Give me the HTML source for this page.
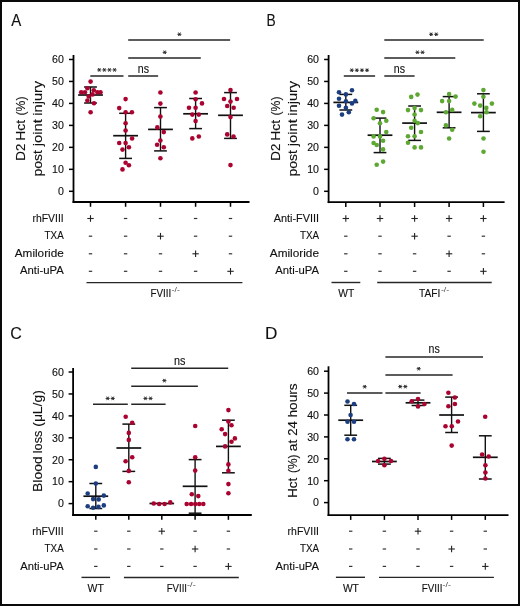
<!DOCTYPE html>
<html><head><meta charset="utf-8"><title>Figure</title>
<style>
html,body{margin:0;padding:0;background:#fff;}
body{width:520px;height:606px;overflow:hidden;}
svg{display:block;will-change:transform;}
text{font-family:"Liberation Sans",sans-serif;fill:#111111;stroke:#111111;stroke-width:0.12px;}
</style></head>
<body>
<svg width="520" height="606" viewBox="0 0 520 606">
<rect x="0" y="0" width="520" height="606" fill="#fff"/>
<text x="11.20" y="25.60" font-size="17" text-anchor="start" textLength="10" lengthAdjust="spacingAndGlyphs">A</text>
<line x1="73.50" y1="55.00" x2="73.50" y2="202.90" stroke="#000" stroke-width="1.8"/>
<line x1="72.60" y1="202.00" x2="249.50" y2="202.00" stroke="#000" stroke-width="1.8"/>
<line x1="69.00" y1="59.48" x2="73.50" y2="59.48" stroke="#000" stroke-width="1.5"/>
<text x="63.80" y="63.28" font-size="10.6" text-anchor="end">60</text>
<line x1="69.00" y1="81.45" x2="73.50" y2="81.45" stroke="#000" stroke-width="1.5"/>
<text x="63.80" y="85.25" font-size="10.6" text-anchor="end">50</text>
<line x1="69.00" y1="103.42" x2="73.50" y2="103.42" stroke="#000" stroke-width="1.5"/>
<text x="63.80" y="107.22" font-size="10.6" text-anchor="end">40</text>
<line x1="69.00" y1="125.39" x2="73.50" y2="125.39" stroke="#000" stroke-width="1.5"/>
<text x="63.80" y="129.19" font-size="10.6" text-anchor="end">30</text>
<line x1="69.00" y1="147.36" x2="73.50" y2="147.36" stroke="#000" stroke-width="1.5"/>
<text x="63.80" y="151.16" font-size="10.6" text-anchor="end">20</text>
<line x1="69.00" y1="169.33" x2="73.50" y2="169.33" stroke="#000" stroke-width="1.5"/>
<text x="63.80" y="173.13" font-size="10.6" text-anchor="end">10</text>
<line x1="69.00" y1="191.30" x2="73.50" y2="191.30" stroke="#000" stroke-width="1.5"/>
<text x="63.80" y="195.10" font-size="10.6" text-anchor="end">0</text>
<line x1="90.50" y1="202.00" x2="90.50" y2="206.80" stroke="#000" stroke-width="1.5"/>
<line x1="125.60" y1="202.00" x2="125.60" y2="206.80" stroke="#000" stroke-width="1.5"/>
<line x1="160.50" y1="202.00" x2="160.50" y2="206.80" stroke="#000" stroke-width="1.5"/>
<line x1="195.60" y1="202.00" x2="195.60" y2="206.80" stroke="#000" stroke-width="1.5"/>
<line x1="230.50" y1="202.00" x2="230.50" y2="206.80" stroke="#000" stroke-width="1.5"/>
<text transform="translate(24.90,160.66) rotate(-90)" x="0" y="0" font-size="13.6" textLength="16.97" lengthAdjust="spacingAndGlyphs">D2</text>
<text transform="translate(24.90,140.72) rotate(-90)" x="0" y="0" font-size="13.6" textLength="20.96" lengthAdjust="spacingAndGlyphs">Hct</text>
<text transform="translate(24.90,115.54) rotate(-90)" x="0" y="0" font-size="13.6" textLength="19.14" lengthAdjust="spacingAndGlyphs">(%)</text>
<text transform="translate(42.10,176.41) rotate(-90)" x="0" y="0" font-size="13.6" textLength="26.35" lengthAdjust="spacingAndGlyphs">post</text>
<text transform="translate(42.10,146.23) rotate(-90)" x="0" y="0" font-size="13.6" textLength="27.07" lengthAdjust="spacingAndGlyphs">joint</text>
<text transform="translate(42.10,115.64) rotate(-90)" x="0" y="0" font-size="13.6" textLength="34.74" lengthAdjust="spacingAndGlyphs">injury</text>
<line x1="90.50" y1="87.00" x2="90.50" y2="103.00" stroke="#111111" stroke-width="1.4"/>
<line x1="84.10" y1="87.00" x2="96.90" y2="87.00" stroke="#111111" stroke-width="1.5"/>
<line x1="84.10" y1="103.00" x2="96.90" y2="103.00" stroke="#111111" stroke-width="1.5"/>
<line x1="78.10" y1="95.00" x2="102.90" y2="95.00" stroke="#111111" stroke-width="1.7"/>
<line x1="125.60" y1="113.30" x2="125.60" y2="158.40" stroke="#111111" stroke-width="1.4"/>
<line x1="119.20" y1="113.30" x2="132.00" y2="113.30" stroke="#111111" stroke-width="1.5"/>
<line x1="119.20" y1="158.40" x2="132.00" y2="158.40" stroke="#111111" stroke-width="1.5"/>
<line x1="113.20" y1="135.70" x2="138.00" y2="135.70" stroke="#111111" stroke-width="1.7"/>
<line x1="160.50" y1="107.60" x2="160.50" y2="150.90" stroke="#111111" stroke-width="1.4"/>
<line x1="154.10" y1="107.60" x2="166.90" y2="107.60" stroke="#111111" stroke-width="1.5"/>
<line x1="154.10" y1="150.90" x2="166.90" y2="150.90" stroke="#111111" stroke-width="1.5"/>
<line x1="148.10" y1="129.40" x2="172.90" y2="129.40" stroke="#111111" stroke-width="1.7"/>
<line x1="195.60" y1="98.50" x2="195.60" y2="128.60" stroke="#111111" stroke-width="1.4"/>
<line x1="189.20" y1="98.50" x2="202.00" y2="98.50" stroke="#111111" stroke-width="1.5"/>
<line x1="189.20" y1="128.60" x2="202.00" y2="128.60" stroke="#111111" stroke-width="1.5"/>
<line x1="183.20" y1="113.80" x2="208.00" y2="113.80" stroke="#111111" stroke-width="1.7"/>
<line x1="230.50" y1="92.60" x2="230.50" y2="138.40" stroke="#111111" stroke-width="1.4"/>
<line x1="224.10" y1="92.60" x2="236.90" y2="92.60" stroke="#111111" stroke-width="1.5"/>
<line x1="224.10" y1="138.40" x2="236.90" y2="138.40" stroke="#111111" stroke-width="1.5"/>
<line x1="218.10" y1="115.30" x2="242.90" y2="115.30" stroke="#111111" stroke-width="1.7"/>
<circle cx="90.60" cy="81.60" r="2.3" fill="#AA0330"/>
<circle cx="87.40" cy="88.20" r="2.3" fill="#AA0330"/>
<circle cx="93.80" cy="90.20" r="2.3" fill="#AA0330"/>
<circle cx="81.20" cy="92.30" r="2.3" fill="#AA0330"/>
<circle cx="85.00" cy="92.30" r="2.3" fill="#AA0330"/>
<circle cx="97.40" cy="92.20" r="2.3" fill="#AA0330"/>
<circle cx="100.50" cy="92.30" r="2.3" fill="#AA0330"/>
<circle cx="92.60" cy="94.40" r="2.3" fill="#AA0330"/>
<circle cx="88.70" cy="96.50" r="2.3" fill="#AA0330"/>
<circle cx="87.40" cy="100.60" r="2.3" fill="#AA0330"/>
<circle cx="94.00" cy="103.30" r="2.3" fill="#AA0330"/>
<circle cx="90.60" cy="112.30" r="2.3" fill="#AA0330"/>
<circle cx="125.60" cy="99.10" r="2.3" fill="#AA0330"/>
<circle cx="119.20" cy="108.10" r="2.3" fill="#AA0330"/>
<circle cx="125.60" cy="112.30" r="2.3" fill="#AA0330"/>
<circle cx="131.90" cy="112.30" r="2.3" fill="#AA0330"/>
<circle cx="125.60" cy="123.20" r="2.3" fill="#AA0330"/>
<circle cx="125.60" cy="130.50" r="2.3" fill="#AA0330"/>
<circle cx="132.10" cy="138.50" r="2.3" fill="#AA0330"/>
<circle cx="119.20" cy="143.00" r="2.3" fill="#AA0330"/>
<circle cx="125.60" cy="143.00" r="2.3" fill="#AA0330"/>
<circle cx="128.90" cy="147.20" r="2.3" fill="#AA0330"/>
<circle cx="122.50" cy="149.60" r="2.3" fill="#AA0330"/>
<circle cx="125.60" cy="162.70" r="2.3" fill="#AA0330"/>
<circle cx="128.90" cy="165.30" r="2.3" fill="#AA0330"/>
<circle cx="122.50" cy="169.40" r="2.3" fill="#AA0330"/>
<circle cx="160.40" cy="92.50" r="2.3" fill="#AA0330"/>
<circle cx="160.40" cy="103.60" r="2.3" fill="#AA0330"/>
<circle cx="160.40" cy="116.60" r="2.3" fill="#AA0330"/>
<circle cx="157.30" cy="127.40" r="2.3" fill="#AA0330"/>
<circle cx="163.80" cy="132.10" r="2.3" fill="#AA0330"/>
<circle cx="160.40" cy="140.50" r="2.3" fill="#AA0330"/>
<circle cx="157.10" cy="144.80" r="2.3" fill="#AA0330"/>
<circle cx="163.80" cy="147.30" r="2.3" fill="#AA0330"/>
<circle cx="160.40" cy="158.30" r="2.3" fill="#AA0330"/>
<circle cx="195.60" cy="92.50" r="2.3" fill="#AA0330"/>
<circle cx="195.60" cy="99.20" r="2.3" fill="#AA0330"/>
<circle cx="202.00" cy="103.40" r="2.3" fill="#AA0330"/>
<circle cx="189.00" cy="107.80" r="2.3" fill="#AA0330"/>
<circle cx="195.60" cy="107.80" r="2.3" fill="#AA0330"/>
<circle cx="192.30" cy="114.60" r="2.3" fill="#AA0330"/>
<circle cx="198.80" cy="114.60" r="2.3" fill="#AA0330"/>
<circle cx="195.60" cy="121.10" r="2.3" fill="#AA0330"/>
<circle cx="192.30" cy="138.40" r="2.3" fill="#AA0330"/>
<circle cx="198.80" cy="136.50" r="2.3" fill="#AA0330"/>
<circle cx="230.50" cy="90.10" r="2.3" fill="#AA0330"/>
<circle cx="224.00" cy="99.00" r="2.3" fill="#AA0330"/>
<circle cx="237.00" cy="99.00" r="2.3" fill="#AA0330"/>
<circle cx="230.50" cy="101.60" r="2.3" fill="#AA0330"/>
<circle cx="227.20" cy="106.00" r="2.3" fill="#AA0330"/>
<circle cx="233.70" cy="107.80" r="2.3" fill="#AA0330"/>
<circle cx="230.50" cy="117.10" r="2.3" fill="#AA0330"/>
<circle cx="227.20" cy="134.40" r="2.3" fill="#AA0330"/>
<circle cx="233.50" cy="136.50" r="2.3" fill="#AA0330"/>
<circle cx="230.50" cy="165.10" r="2.3" fill="#AA0330"/>
<line x1="90.30" y1="76.00" x2="123.50" y2="76.00" stroke="#262626" stroke-width="1.5"/>
<path d="M97.25,69.90L101.25,69.90M98.25,68.17L100.25,71.63M100.25,68.17L98.25,71.63" stroke="#2a2a2a" stroke-width="1.0" fill="none"/>
<path d="M102.35,69.90L106.35,69.90M103.35,68.17L105.35,71.63M105.35,68.17L103.35,71.63" stroke="#2a2a2a" stroke-width="1.0" fill="none"/>
<path d="M107.45,69.90L111.45,69.90M108.45,68.17L110.45,71.63M110.45,68.17L108.45,71.63" stroke="#2a2a2a" stroke-width="1.0" fill="none"/>
<path d="M112.55,69.90L116.55,69.90M113.55,68.17L115.55,71.63M115.55,68.17L113.55,71.63" stroke="#2a2a2a" stroke-width="1.0" fill="none"/>
<line x1="128.20" y1="76.00" x2="158.10" y2="76.00" stroke="#262626" stroke-width="1.5"/>
<text x="143.40" y="72.50" font-size="11.9" text-anchor="middle" textLength="11.2" lengthAdjust="spacingAndGlyphs">ns</text>
<line x1="128.20" y1="58.10" x2="200.80" y2="58.10" stroke="#262626" stroke-width="1.5"/>
<path d="M162.70,52.30L166.70,52.30M163.70,50.57L165.70,54.03M165.70,50.57L163.70,54.03" stroke="#2a2a2a" stroke-width="1.0" fill="none"/>
<line x1="128.20" y1="40.10" x2="230.10" y2="40.10" stroke="#262626" stroke-width="1.5"/>
<path d="M177.40,34.30L181.40,34.30M178.40,32.57L180.40,36.03M180.40,32.57L178.40,36.03" stroke="#2a2a2a" stroke-width="1.0" fill="none"/>
<text x="63.70" y="221.80" font-size="11.2" text-anchor="end" textLength="31.2" lengthAdjust="spacingAndGlyphs">rhFVIII</text>
<line x1="87.30" y1="218.50" x2="93.70" y2="218.50" stroke="#222" stroke-width="1.1"/>
<line x1="90.50" y1="215.20" x2="90.50" y2="221.80" stroke="#222" stroke-width="1.1"/>
<line x1="123.90" y1="218.50" x2="127.30" y2="218.50" stroke="#333" stroke-width="1.2"/>
<line x1="158.80" y1="218.50" x2="162.20" y2="218.50" stroke="#333" stroke-width="1.2"/>
<line x1="193.90" y1="218.50" x2="197.30" y2="218.50" stroke="#333" stroke-width="1.2"/>
<line x1="228.80" y1="218.50" x2="232.20" y2="218.50" stroke="#333" stroke-width="1.2"/>
<text x="63.70" y="239.10" font-size="11.2" text-anchor="end" textLength="19.1" lengthAdjust="spacingAndGlyphs">TXA</text>
<line x1="88.80" y1="236.20" x2="92.20" y2="236.20" stroke="#333" stroke-width="1.2"/>
<line x1="123.90" y1="236.20" x2="127.30" y2="236.20" stroke="#333" stroke-width="1.2"/>
<line x1="157.30" y1="236.20" x2="163.70" y2="236.20" stroke="#222" stroke-width="1.1"/>
<line x1="160.50" y1="232.90" x2="160.50" y2="239.50" stroke="#222" stroke-width="1.1"/>
<line x1="193.90" y1="236.20" x2="197.30" y2="236.20" stroke="#333" stroke-width="1.2"/>
<line x1="228.80" y1="236.20" x2="232.20" y2="236.20" stroke="#333" stroke-width="1.2"/>
<text x="63.70" y="256.90" font-size="11.2" text-anchor="end" textLength="48.9" lengthAdjust="spacingAndGlyphs">Amiloride</text>
<line x1="88.80" y1="253.80" x2="92.20" y2="253.80" stroke="#333" stroke-width="1.2"/>
<line x1="123.90" y1="253.80" x2="127.30" y2="253.80" stroke="#333" stroke-width="1.2"/>
<line x1="158.80" y1="253.80" x2="162.20" y2="253.80" stroke="#333" stroke-width="1.2"/>
<line x1="192.40" y1="253.80" x2="198.80" y2="253.80" stroke="#222" stroke-width="1.1"/>
<line x1="195.60" y1="250.50" x2="195.60" y2="257.10" stroke="#222" stroke-width="1.1"/>
<line x1="228.80" y1="253.80" x2="232.20" y2="253.80" stroke="#333" stroke-width="1.2"/>
<text x="63.70" y="274.30" font-size="11.2" text-anchor="end" textLength="43.7" lengthAdjust="spacingAndGlyphs">Anti-uPA</text>
<line x1="88.80" y1="271.30" x2="92.20" y2="271.30" stroke="#333" stroke-width="1.2"/>
<line x1="123.90" y1="271.30" x2="127.30" y2="271.30" stroke="#333" stroke-width="1.2"/>
<line x1="158.80" y1="271.30" x2="162.20" y2="271.30" stroke="#333" stroke-width="1.2"/>
<line x1="193.90" y1="271.30" x2="197.30" y2="271.30" stroke="#333" stroke-width="1.2"/>
<line x1="227.30" y1="271.30" x2="233.70" y2="271.30" stroke="#222" stroke-width="1.1"/>
<line x1="230.50" y1="268.00" x2="230.50" y2="274.60" stroke="#222" stroke-width="1.1"/>
<line x1="86.50" y1="282.60" x2="242.40" y2="282.60" stroke="#262626" stroke-width="1.4"/>
<text x="150.40" y="297.30" font-size="10.8" text-anchor="start" textLength="20.8" lengthAdjust="spacingAndGlyphs">FVIII</text>
<text x="171.60" y="292.30" font-size="7" text-anchor="start" textLength="8.2" lengthAdjust="spacingAndGlyphs" style="stroke:none;fill:#444">-/-</text>
<text x="266.50" y="25.60" font-size="17" text-anchor="start" textLength="9.2" lengthAdjust="spacingAndGlyphs">B</text>
<line x1="328.60" y1="55.00" x2="328.60" y2="203.10" stroke="#000" stroke-width="1.8"/>
<line x1="327.70" y1="202.20" x2="504.60" y2="202.20" stroke="#000" stroke-width="1.8"/>
<line x1="324.10" y1="59.48" x2="328.60" y2="59.48" stroke="#000" stroke-width="1.5"/>
<text x="319.00" y="63.28" font-size="10.6" text-anchor="end">60</text>
<line x1="324.10" y1="81.45" x2="328.60" y2="81.45" stroke="#000" stroke-width="1.5"/>
<text x="319.00" y="85.25" font-size="10.6" text-anchor="end">50</text>
<line x1="324.10" y1="103.42" x2="328.60" y2="103.42" stroke="#000" stroke-width="1.5"/>
<text x="319.00" y="107.22" font-size="10.6" text-anchor="end">40</text>
<line x1="324.10" y1="125.39" x2="328.60" y2="125.39" stroke="#000" stroke-width="1.5"/>
<text x="319.00" y="129.19" font-size="10.6" text-anchor="end">30</text>
<line x1="324.10" y1="147.36" x2="328.60" y2="147.36" stroke="#000" stroke-width="1.5"/>
<text x="319.00" y="151.16" font-size="10.6" text-anchor="end">20</text>
<line x1="324.10" y1="169.33" x2="328.60" y2="169.33" stroke="#000" stroke-width="1.5"/>
<text x="319.00" y="173.13" font-size="10.6" text-anchor="end">10</text>
<line x1="324.10" y1="191.30" x2="328.60" y2="191.30" stroke="#000" stroke-width="1.5"/>
<text x="319.00" y="195.10" font-size="10.6" text-anchor="end">0</text>
<line x1="345.80" y1="202.20" x2="345.80" y2="207.00" stroke="#000" stroke-width="1.5"/>
<line x1="380.00" y1="202.20" x2="380.00" y2="207.00" stroke="#000" stroke-width="1.5"/>
<line x1="414.60" y1="202.20" x2="414.60" y2="207.00" stroke="#000" stroke-width="1.5"/>
<line x1="449.10" y1="202.20" x2="449.10" y2="207.00" stroke="#000" stroke-width="1.5"/>
<line x1="483.40" y1="202.20" x2="483.40" y2="207.00" stroke="#000" stroke-width="1.5"/>
<text transform="translate(280.20,160.66) rotate(-90)" x="0" y="0" font-size="13.6" textLength="16.97" lengthAdjust="spacingAndGlyphs">D2</text>
<text transform="translate(280.20,140.72) rotate(-90)" x="0" y="0" font-size="13.6" textLength="20.96" lengthAdjust="spacingAndGlyphs">Hct</text>
<text transform="translate(280.20,115.54) rotate(-90)" x="0" y="0" font-size="13.6" textLength="19.14" lengthAdjust="spacingAndGlyphs">(%)</text>
<text transform="translate(297.40,176.41) rotate(-90)" x="0" y="0" font-size="13.6" textLength="26.35" lengthAdjust="spacingAndGlyphs">post</text>
<text transform="translate(297.40,146.23) rotate(-90)" x="0" y="0" font-size="13.6" textLength="27.07" lengthAdjust="spacingAndGlyphs">joint</text>
<text transform="translate(297.40,115.64) rotate(-90)" x="0" y="0" font-size="13.6" textLength="34.74" lengthAdjust="spacingAndGlyphs">injury</text>
<line x1="345.80" y1="94.40" x2="345.80" y2="110.00" stroke="#111111" stroke-width="1.4"/>
<line x1="339.40" y1="94.40" x2="352.20" y2="94.40" stroke="#111111" stroke-width="1.5"/>
<line x1="339.40" y1="110.00" x2="352.20" y2="110.00" stroke="#111111" stroke-width="1.5"/>
<line x1="333.40" y1="102.40" x2="358.20" y2="102.40" stroke="#111111" stroke-width="1.7"/>
<line x1="380.00" y1="118.10" x2="380.00" y2="152.60" stroke="#111111" stroke-width="1.4"/>
<line x1="373.60" y1="118.10" x2="386.40" y2="118.10" stroke="#111111" stroke-width="1.5"/>
<line x1="373.60" y1="152.60" x2="386.40" y2="152.60" stroke="#111111" stroke-width="1.5"/>
<line x1="367.60" y1="135.20" x2="392.40" y2="135.20" stroke="#111111" stroke-width="1.7"/>
<line x1="414.60" y1="106.00" x2="414.60" y2="140.40" stroke="#111111" stroke-width="1.4"/>
<line x1="408.20" y1="106.00" x2="421.00" y2="106.00" stroke="#111111" stroke-width="1.5"/>
<line x1="408.20" y1="140.40" x2="421.00" y2="140.40" stroke="#111111" stroke-width="1.5"/>
<line x1="402.20" y1="123.10" x2="427.00" y2="123.10" stroke="#111111" stroke-width="1.7"/>
<line x1="449.10" y1="96.60" x2="449.10" y2="127.80" stroke="#111111" stroke-width="1.4"/>
<line x1="442.70" y1="96.60" x2="455.50" y2="96.60" stroke="#111111" stroke-width="1.5"/>
<line x1="442.70" y1="127.80" x2="455.50" y2="127.80" stroke="#111111" stroke-width="1.5"/>
<line x1="436.70" y1="112.30" x2="461.50" y2="112.30" stroke="#111111" stroke-width="1.7"/>
<line x1="483.40" y1="93.80" x2="483.40" y2="131.40" stroke="#111111" stroke-width="1.4"/>
<line x1="477.00" y1="93.80" x2="489.80" y2="93.80" stroke="#111111" stroke-width="1.5"/>
<line x1="477.00" y1="131.40" x2="489.80" y2="131.40" stroke="#111111" stroke-width="1.5"/>
<line x1="471.00" y1="112.60" x2="495.80" y2="112.60" stroke="#111111" stroke-width="1.7"/>
<circle cx="352.00" cy="90.20" r="2.3" fill="#1C3D80"/>
<circle cx="339.00" cy="92.30" r="2.3" fill="#1C3D80"/>
<circle cx="345.90" cy="94.40" r="2.3" fill="#1C3D80"/>
<circle cx="339.00" cy="98.80" r="2.3" fill="#1C3D80"/>
<circle cx="345.90" cy="101.30" r="2.3" fill="#1C3D80"/>
<circle cx="355.30" cy="100.90" r="2.3" fill="#1C3D80"/>
<circle cx="352.00" cy="103.40" r="2.3" fill="#1C3D80"/>
<circle cx="339.00" cy="105.70" r="2.3" fill="#1C3D80"/>
<circle cx="345.90" cy="107.70" r="2.3" fill="#1C3D80"/>
<circle cx="348.80" cy="112.20" r="2.3" fill="#1C3D80"/>
<circle cx="342.00" cy="114.60" r="2.3" fill="#1C3D80"/>
<circle cx="376.70" cy="109.80" r="2.3" fill="#5DA832"/>
<circle cx="383.10" cy="112.10" r="2.3" fill="#5DA832"/>
<circle cx="373.60" cy="118.30" r="2.3" fill="#5DA832"/>
<circle cx="386.30" cy="120.80" r="2.3" fill="#5DA832"/>
<circle cx="380.00" cy="123.30" r="2.3" fill="#5DA832"/>
<circle cx="386.30" cy="132.00" r="2.3" fill="#5DA832"/>
<circle cx="373.60" cy="136.40" r="2.3" fill="#5DA832"/>
<circle cx="380.00" cy="136.40" r="2.3" fill="#5DA832"/>
<circle cx="383.10" cy="140.70" r="2.3" fill="#5DA832"/>
<circle cx="373.60" cy="143.00" r="2.3" fill="#5DA832"/>
<circle cx="376.70" cy="145.00" r="2.3" fill="#5DA832"/>
<circle cx="383.10" cy="149.40" r="2.3" fill="#5DA832"/>
<circle cx="383.10" cy="161.60" r="2.3" fill="#5DA832"/>
<circle cx="376.70" cy="164.70" r="2.3" fill="#5DA832"/>
<circle cx="411.20" cy="96.90" r="2.3" fill="#5DA832"/>
<circle cx="417.50" cy="94.60" r="2.3" fill="#5DA832"/>
<circle cx="414.60" cy="108.10" r="2.3" fill="#5DA832"/>
<circle cx="408.00" cy="110.10" r="2.3" fill="#5DA832"/>
<circle cx="421.00" cy="110.10" r="2.3" fill="#5DA832"/>
<circle cx="414.60" cy="114.50" r="2.3" fill="#5DA832"/>
<circle cx="414.60" cy="120.80" r="2.3" fill="#5DA832"/>
<circle cx="417.80" cy="123.10" r="2.3" fill="#5DA832"/>
<circle cx="411.20" cy="127.70" r="2.3" fill="#5DA832"/>
<circle cx="421.00" cy="132.00" r="2.3" fill="#5DA832"/>
<circle cx="408.00" cy="136.20" r="2.3" fill="#5DA832"/>
<circle cx="414.60" cy="136.20" r="2.3" fill="#5DA832"/>
<circle cx="408.00" cy="142.80" r="2.3" fill="#5DA832"/>
<circle cx="414.60" cy="147.40" r="2.3" fill="#5DA832"/>
<circle cx="421.00" cy="147.40" r="2.3" fill="#5DA832"/>
<circle cx="449.10" cy="94.10" r="2.3" fill="#5DA832"/>
<circle cx="455.60" cy="96.60" r="2.3" fill="#5DA832"/>
<circle cx="442.10" cy="101.10" r="2.3" fill="#5DA832"/>
<circle cx="449.10" cy="101.10" r="2.3" fill="#5DA832"/>
<circle cx="452.20" cy="109.90" r="2.3" fill="#5DA832"/>
<circle cx="445.90" cy="112.30" r="2.3" fill="#5DA832"/>
<circle cx="445.90" cy="125.40" r="2.3" fill="#5DA832"/>
<circle cx="452.20" cy="129.80" r="2.3" fill="#5DA832"/>
<circle cx="449.10" cy="138.50" r="2.3" fill="#5DA832"/>
<circle cx="483.40" cy="90.10" r="2.3" fill="#5DA832"/>
<circle cx="483.40" cy="96.80" r="2.3" fill="#5DA832"/>
<circle cx="474.40" cy="103.60" r="2.3" fill="#5DA832"/>
<circle cx="491.90" cy="103.60" r="2.3" fill="#5DA832"/>
<circle cx="480.20" cy="105.60" r="2.3" fill="#5DA832"/>
<circle cx="486.30" cy="107.90" r="2.3" fill="#5DA832"/>
<circle cx="486.50" cy="112.30" r="2.3" fill="#5DA832"/>
<circle cx="480.20" cy="116.30" r="2.3" fill="#5DA832"/>
<circle cx="483.50" cy="138.50" r="2.3" fill="#5DA832"/>
<circle cx="483.50" cy="151.80" r="2.3" fill="#5DA832"/>
<line x1="343.80" y1="76.00" x2="375.10" y2="76.00" stroke="#262626" stroke-width="1.5"/>
<path d="M349.75,70.20L353.75,70.20M350.75,68.47L352.75,71.93M352.75,68.47L350.75,71.93" stroke="#2a2a2a" stroke-width="1.0" fill="none"/>
<path d="M354.85,70.20L358.85,70.20M355.85,68.47L357.85,71.93M357.85,68.47L355.85,71.93" stroke="#2a2a2a" stroke-width="1.0" fill="none"/>
<path d="M359.95,70.20L363.95,70.20M360.95,68.47L362.95,71.93M362.95,68.47L360.95,71.93" stroke="#2a2a2a" stroke-width="1.0" fill="none"/>
<path d="M365.05,70.20L369.05,70.20M366.05,68.47L368.05,71.93M368.05,68.47L366.05,71.93" stroke="#2a2a2a" stroke-width="1.0" fill="none"/>
<line x1="384.30" y1="76.00" x2="414.60" y2="76.00" stroke="#262626" stroke-width="1.5"/>
<text x="399.40" y="72.50" font-size="11.9" text-anchor="middle" textLength="11.2" lengthAdjust="spacingAndGlyphs">ns</text>
<line x1="384.30" y1="58.10" x2="455.30" y2="58.10" stroke="#262626" stroke-width="1.5"/>
<path d="M415.45,52.30L419.45,52.30M416.45,50.57L418.45,54.03M418.45,50.57L416.45,54.03" stroke="#2a2a2a" stroke-width="1.0" fill="none"/>
<path d="M420.55,52.30L424.55,52.30M421.55,50.57L423.55,54.03M423.55,50.57L421.55,54.03" stroke="#2a2a2a" stroke-width="1.0" fill="none"/>
<line x1="384.30" y1="40.10" x2="483.70" y2="40.10" stroke="#262626" stroke-width="1.5"/>
<path d="M429.15,34.30L433.15,34.30M430.15,32.57L432.15,36.03M432.15,32.57L430.15,36.03" stroke="#2a2a2a" stroke-width="1.0" fill="none"/>
<path d="M434.25,34.30L438.25,34.30M435.25,32.57L437.25,36.03M437.25,32.57L435.25,36.03" stroke="#2a2a2a" stroke-width="1.0" fill="none"/>
<text x="319.00" y="221.80" font-size="11.2" text-anchor="end" textLength="45.3" lengthAdjust="spacingAndGlyphs">Anti-FVIII</text>
<line x1="342.60" y1="218.50" x2="349.00" y2="218.50" stroke="#222" stroke-width="1.1"/>
<line x1="345.80" y1="215.20" x2="345.80" y2="221.80" stroke="#222" stroke-width="1.1"/>
<line x1="376.80" y1="218.50" x2="383.20" y2="218.50" stroke="#222" stroke-width="1.1"/>
<line x1="380.00" y1="215.20" x2="380.00" y2="221.80" stroke="#222" stroke-width="1.1"/>
<line x1="411.40" y1="218.50" x2="417.80" y2="218.50" stroke="#222" stroke-width="1.1"/>
<line x1="414.60" y1="215.20" x2="414.60" y2="221.80" stroke="#222" stroke-width="1.1"/>
<line x1="445.90" y1="218.50" x2="452.30" y2="218.50" stroke="#222" stroke-width="1.1"/>
<line x1="449.10" y1="215.20" x2="449.10" y2="221.80" stroke="#222" stroke-width="1.1"/>
<line x1="480.20" y1="218.50" x2="486.60" y2="218.50" stroke="#222" stroke-width="1.1"/>
<line x1="483.40" y1="215.20" x2="483.40" y2="221.80" stroke="#222" stroke-width="1.1"/>
<text x="319.00" y="239.10" font-size="11.2" text-anchor="end" textLength="19.1" lengthAdjust="spacingAndGlyphs">TXA</text>
<line x1="344.10" y1="236.20" x2="347.50" y2="236.20" stroke="#333" stroke-width="1.2"/>
<line x1="378.30" y1="236.20" x2="381.70" y2="236.20" stroke="#333" stroke-width="1.2"/>
<line x1="411.40" y1="236.20" x2="417.80" y2="236.20" stroke="#222" stroke-width="1.1"/>
<line x1="414.60" y1="232.90" x2="414.60" y2="239.50" stroke="#222" stroke-width="1.1"/>
<line x1="447.40" y1="236.20" x2="450.80" y2="236.20" stroke="#333" stroke-width="1.2"/>
<line x1="481.70" y1="236.20" x2="485.10" y2="236.20" stroke="#333" stroke-width="1.2"/>
<text x="319.00" y="256.90" font-size="11.2" text-anchor="end" textLength="49.2" lengthAdjust="spacingAndGlyphs">Amiloride</text>
<line x1="344.10" y1="253.80" x2="347.50" y2="253.80" stroke="#333" stroke-width="1.2"/>
<line x1="378.30" y1="253.80" x2="381.70" y2="253.80" stroke="#333" stroke-width="1.2"/>
<line x1="412.90" y1="253.80" x2="416.30" y2="253.80" stroke="#333" stroke-width="1.2"/>
<line x1="445.90" y1="253.80" x2="452.30" y2="253.80" stroke="#222" stroke-width="1.1"/>
<line x1="449.10" y1="250.50" x2="449.10" y2="257.10" stroke="#222" stroke-width="1.1"/>
<line x1="481.70" y1="253.80" x2="485.10" y2="253.80" stroke="#333" stroke-width="1.2"/>
<text x="319.00" y="274.30" font-size="11.2" text-anchor="end" textLength="43.7" lengthAdjust="spacingAndGlyphs">Anti-uPA</text>
<line x1="344.10" y1="271.30" x2="347.50" y2="271.30" stroke="#333" stroke-width="1.2"/>
<line x1="378.30" y1="271.30" x2="381.70" y2="271.30" stroke="#333" stroke-width="1.2"/>
<line x1="412.90" y1="271.30" x2="416.30" y2="271.30" stroke="#333" stroke-width="1.2"/>
<line x1="447.40" y1="271.30" x2="450.80" y2="271.30" stroke="#333" stroke-width="1.2"/>
<line x1="480.20" y1="271.30" x2="486.60" y2="271.30" stroke="#222" stroke-width="1.1"/>
<line x1="483.40" y1="268.00" x2="483.40" y2="274.60" stroke="#222" stroke-width="1.1"/>
<line x1="331.50" y1="282.50" x2="360.30" y2="282.50" stroke="#262626" stroke-width="1.4"/>
<text x="338.20" y="297.40" font-size="10.8" text-anchor="start" textLength="16" lengthAdjust="spacingAndGlyphs">WT</text>
<line x1="377.20" y1="282.50" x2="491.70" y2="282.50" stroke="#262626" stroke-width="1.4"/>
<text x="419.10" y="297.40" font-size="10.8" text-anchor="start" textLength="21.2" lengthAdjust="spacingAndGlyphs">TAFI</text>
<text x="440.90" y="292.20" font-size="7" text-anchor="start" textLength="8.2" lengthAdjust="spacingAndGlyphs" style="stroke:none;fill:#444">-/-</text>
<text x="10.30" y="338.70" font-size="17" text-anchor="start" textLength="11.6" lengthAdjust="spacingAndGlyphs">C</text>
<line x1="73.10" y1="368.00" x2="73.10" y2="515.90" stroke="#000" stroke-width="1.8"/>
<line x1="72.20" y1="515.00" x2="251.80" y2="515.00" stroke="#000" stroke-width="1.8"/>
<line x1="68.60" y1="372.02" x2="73.10" y2="372.02" stroke="#000" stroke-width="1.5"/>
<text x="63.80" y="375.82" font-size="10.6" text-anchor="end">60</text>
<line x1="68.60" y1="393.95" x2="73.10" y2="393.95" stroke="#000" stroke-width="1.5"/>
<text x="63.80" y="397.75" font-size="10.6" text-anchor="end">50</text>
<line x1="68.60" y1="415.88" x2="73.10" y2="415.88" stroke="#000" stroke-width="1.5"/>
<text x="63.80" y="419.68" font-size="10.6" text-anchor="end">40</text>
<line x1="68.60" y1="437.81" x2="73.10" y2="437.81" stroke="#000" stroke-width="1.5"/>
<text x="63.80" y="441.61" font-size="10.6" text-anchor="end">30</text>
<line x1="68.60" y1="459.74" x2="73.10" y2="459.74" stroke="#000" stroke-width="1.5"/>
<text x="63.80" y="463.54" font-size="10.6" text-anchor="end">20</text>
<line x1="68.60" y1="481.67" x2="73.10" y2="481.67" stroke="#000" stroke-width="1.5"/>
<text x="63.80" y="485.47" font-size="10.6" text-anchor="end">10</text>
<line x1="68.60" y1="503.60" x2="73.10" y2="503.60" stroke="#000" stroke-width="1.5"/>
<text x="63.80" y="507.40" font-size="10.6" text-anchor="end">0</text>
<line x1="95.80" y1="515.00" x2="95.80" y2="519.80" stroke="#000" stroke-width="1.5"/>
<line x1="128.80" y1="515.00" x2="128.80" y2="519.80" stroke="#000" stroke-width="1.5"/>
<line x1="161.80" y1="515.00" x2="161.80" y2="519.80" stroke="#000" stroke-width="1.5"/>
<line x1="195.10" y1="515.00" x2="195.10" y2="519.80" stroke="#000" stroke-width="1.5"/>
<line x1="228.40" y1="515.00" x2="228.40" y2="519.80" stroke="#000" stroke-width="1.5"/>
<text transform="translate(41.80,491.91) rotate(-90)" x="0" y="0" font-size="13.6" textLength="35.55" lengthAdjust="spacingAndGlyphs">Blood</text>
<text transform="translate(41.80,453.23) rotate(-90)" x="0" y="0" font-size="13.6" textLength="22.65" lengthAdjust="spacingAndGlyphs">loss</text>
<text transform="translate(41.80,426.73) rotate(-90)" x="0" y="0" font-size="13.6" textLength="36.50" lengthAdjust="spacingAndGlyphs">(μL/g)</text>
<line x1="95.80" y1="483.50" x2="95.80" y2="508.50" stroke="#111111" stroke-width="1.4"/>
<line x1="89.40" y1="483.50" x2="102.20" y2="483.50" stroke="#111111" stroke-width="1.5"/>
<line x1="89.40" y1="508.50" x2="102.20" y2="508.50" stroke="#111111" stroke-width="1.5"/>
<line x1="83.40" y1="496.20" x2="108.20" y2="496.20" stroke="#111111" stroke-width="1.7"/>
<line x1="128.80" y1="424.10" x2="128.80" y2="471.40" stroke="#111111" stroke-width="1.4"/>
<line x1="122.40" y1="424.10" x2="135.20" y2="424.10" stroke="#111111" stroke-width="1.5"/>
<line x1="122.40" y1="471.40" x2="135.20" y2="471.40" stroke="#111111" stroke-width="1.5"/>
<line x1="116.40" y1="448.00" x2="141.20" y2="448.00" stroke="#111111" stroke-width="1.7"/>
<line x1="149.50" y1="503.50" x2="174.10" y2="503.50" stroke="#111111" stroke-width="1.7"/>
<line x1="195.10" y1="459.60" x2="195.10" y2="513.20" stroke="#111111" stroke-width="1.4"/>
<line x1="188.70" y1="459.60" x2="201.50" y2="459.60" stroke="#111111" stroke-width="1.5"/>
<line x1="188.70" y1="513.20" x2="201.50" y2="513.20" stroke="#111111" stroke-width="1.5"/>
<line x1="182.70" y1="486.30" x2="207.50" y2="486.30" stroke="#111111" stroke-width="1.7"/>
<line x1="228.40" y1="420.20" x2="228.40" y2="472.80" stroke="#111111" stroke-width="1.4"/>
<line x1="222.00" y1="420.20" x2="234.80" y2="420.20" stroke="#111111" stroke-width="1.5"/>
<line x1="222.00" y1="472.80" x2="234.80" y2="472.80" stroke="#111111" stroke-width="1.5"/>
<line x1="216.00" y1="446.40" x2="240.80" y2="446.40" stroke="#111111" stroke-width="1.7"/>
<circle cx="95.80" cy="466.90" r="2.3" fill="#1C3D80"/>
<circle cx="95.80" cy="483.50" r="2.3" fill="#1C3D80"/>
<circle cx="87.70" cy="493.50" r="2.3" fill="#1C3D80"/>
<circle cx="103.80" cy="495.60" r="2.3" fill="#1C3D80"/>
<circle cx="93.10" cy="499.10" r="2.3" fill="#1C3D80"/>
<circle cx="98.70" cy="499.40" r="2.3" fill="#1C3D80"/>
<circle cx="87.70" cy="506.20" r="2.3" fill="#1C3D80"/>
<circle cx="93.10" cy="507.70" r="2.3" fill="#1C3D80"/>
<circle cx="98.50" cy="506.90" r="2.3" fill="#1C3D80"/>
<circle cx="103.80" cy="505.40" r="2.3" fill="#1C3D80"/>
<circle cx="125.70" cy="416.70" r="2.3" fill="#AA0330"/>
<circle cx="132.20" cy="422.80" r="2.3" fill="#AA0330"/>
<circle cx="128.80" cy="432.90" r="2.3" fill="#AA0330"/>
<circle cx="128.80" cy="439.90" r="2.3" fill="#AA0330"/>
<circle cx="132.20" cy="457.20" r="2.3" fill="#AA0330"/>
<circle cx="125.60" cy="461.20" r="2.3" fill="#AA0330"/>
<circle cx="128.80" cy="470.90" r="2.3" fill="#AA0330"/>
<circle cx="128.80" cy="482.20" r="2.3" fill="#AA0330"/>
<circle cx="153.70" cy="503.50" r="2.3" fill="#AA0330"/>
<circle cx="159.20" cy="504.00" r="2.3" fill="#AA0330"/>
<circle cx="164.60" cy="504.00" r="2.3" fill="#AA0330"/>
<circle cx="170.30" cy="502.40" r="2.3" fill="#AA0330"/>
<circle cx="195.20" cy="426.00" r="2.3" fill="#AA0330"/>
<circle cx="195.20" cy="457.20" r="2.3" fill="#AA0330"/>
<circle cx="195.20" cy="470.60" r="2.3" fill="#AA0330"/>
<circle cx="191.80" cy="494.30" r="2.3" fill="#AA0330"/>
<circle cx="198.30" cy="496.10" r="2.3" fill="#AA0330"/>
<circle cx="186.70" cy="504.00" r="2.3" fill="#AA0330"/>
<circle cx="191.10" cy="504.00" r="2.3" fill="#AA0330"/>
<circle cx="195.20" cy="504.00" r="2.3" fill="#AA0330"/>
<circle cx="199.20" cy="504.00" r="2.3" fill="#AA0330"/>
<circle cx="203.30" cy="504.00" r="2.3" fill="#AA0330"/>
<circle cx="228.40" cy="410.10" r="2.3" fill="#AA0330"/>
<circle cx="228.40" cy="421.50" r="2.3" fill="#AA0330"/>
<circle cx="231.50" cy="425.30" r="2.3" fill="#AA0330"/>
<circle cx="221.70" cy="429.20" r="2.3" fill="#AA0330"/>
<circle cx="225.10" cy="434.10" r="2.3" fill="#AA0330"/>
<circle cx="234.90" cy="438.40" r="2.3" fill="#AA0330"/>
<circle cx="231.50" cy="441.70" r="2.3" fill="#AA0330"/>
<circle cx="225.10" cy="446.40" r="2.3" fill="#AA0330"/>
<circle cx="228.40" cy="464.40" r="2.3" fill="#AA0330"/>
<circle cx="228.40" cy="470.70" r="2.3" fill="#AA0330"/>
<circle cx="228.40" cy="484.10" r="2.3" fill="#AA0330"/>
<circle cx="228.40" cy="493.20" r="2.3" fill="#AA0330"/>
<line x1="93.00" y1="404.30" x2="127.80" y2="404.30" stroke="#262626" stroke-width="1.5"/>
<path d="M105.65,398.40L109.65,398.40M106.65,396.67L108.65,400.13M108.65,396.67L106.65,400.13" stroke="#2a2a2a" stroke-width="1.0" fill="none"/>
<path d="M110.75,398.40L114.75,398.40M111.75,396.67L113.75,400.13M113.75,396.67L111.75,400.13" stroke="#2a2a2a" stroke-width="1.0" fill="none"/>
<line x1="131.20" y1="404.30" x2="165.60" y2="404.30" stroke="#262626" stroke-width="1.5"/>
<path d="M143.45,398.40L147.45,398.40M144.45,396.67L146.45,400.13M146.45,396.67L144.45,400.13" stroke="#2a2a2a" stroke-width="1.0" fill="none"/>
<path d="M148.55,398.40L152.55,398.40M149.55,396.67L151.55,400.13M151.55,396.67L149.55,400.13" stroke="#2a2a2a" stroke-width="1.0" fill="none"/>
<line x1="131.20" y1="386.25" x2="197.90" y2="386.25" stroke="#262626" stroke-width="1.5"/>
<path d="M162.40,380.60L166.40,380.60M163.40,378.87L165.40,382.33M165.40,378.87L163.40,382.33" stroke="#2a2a2a" stroke-width="1.0" fill="none"/>
<line x1="131.20" y1="368.25" x2="228.20" y2="368.25" stroke="#262626" stroke-width="1.5"/>
<text x="179.70" y="364.60" font-size="11.9" text-anchor="middle" textLength="11.4" lengthAdjust="spacingAndGlyphs">ns</text>
<text x="63.70" y="534.60" font-size="11.2" text-anchor="end" textLength="31.4" lengthAdjust="spacingAndGlyphs">rhFVIII</text>
<line x1="94.10" y1="531.20" x2="97.50" y2="531.20" stroke="#333" stroke-width="1.2"/>
<line x1="127.10" y1="531.20" x2="130.50" y2="531.20" stroke="#333" stroke-width="1.2"/>
<line x1="158.60" y1="531.20" x2="165.00" y2="531.20" stroke="#222" stroke-width="1.1"/>
<line x1="161.80" y1="527.90" x2="161.80" y2="534.50" stroke="#222" stroke-width="1.1"/>
<line x1="193.40" y1="531.20" x2="196.80" y2="531.20" stroke="#333" stroke-width="1.2"/>
<line x1="226.70" y1="531.20" x2="230.10" y2="531.20" stroke="#333" stroke-width="1.2"/>
<text x="63.70" y="552.40" font-size="11.2" text-anchor="end" textLength="19.1" lengthAdjust="spacingAndGlyphs">TXA</text>
<line x1="94.10" y1="549.00" x2="97.50" y2="549.00" stroke="#333" stroke-width="1.2"/>
<line x1="127.10" y1="549.00" x2="130.50" y2="549.00" stroke="#333" stroke-width="1.2"/>
<line x1="160.10" y1="549.00" x2="163.50" y2="549.00" stroke="#333" stroke-width="1.2"/>
<line x1="191.90" y1="549.00" x2="198.30" y2="549.00" stroke="#222" stroke-width="1.1"/>
<line x1="195.10" y1="545.70" x2="195.10" y2="552.30" stroke="#222" stroke-width="1.1"/>
<line x1="226.70" y1="549.00" x2="230.10" y2="549.00" stroke="#333" stroke-width="1.2"/>
<text x="63.70" y="570.20" font-size="11.2" text-anchor="end" textLength="43.4" lengthAdjust="spacingAndGlyphs">Anti-uPA</text>
<line x1="94.10" y1="566.40" x2="97.50" y2="566.40" stroke="#333" stroke-width="1.2"/>
<line x1="127.10" y1="566.40" x2="130.50" y2="566.40" stroke="#333" stroke-width="1.2"/>
<line x1="160.10" y1="566.40" x2="163.50" y2="566.40" stroke="#333" stroke-width="1.2"/>
<line x1="193.40" y1="566.40" x2="196.80" y2="566.40" stroke="#333" stroke-width="1.2"/>
<line x1="225.20" y1="566.40" x2="231.60" y2="566.40" stroke="#222" stroke-width="1.1"/>
<line x1="228.40" y1="563.10" x2="228.40" y2="569.70" stroke="#222" stroke-width="1.1"/>
<line x1="81.50" y1="577.40" x2="110.10" y2="577.40" stroke="#262626" stroke-width="1.4"/>
<text x="87.60" y="592.30" font-size="10.8" text-anchor="start" textLength="16.3" lengthAdjust="spacingAndGlyphs">WT</text>
<line x1="123.90" y1="577.50" x2="238.80" y2="577.50" stroke="#262626" stroke-width="1.4"/>
<text x="166.70" y="591.80" font-size="10.8" text-anchor="start" textLength="20.3" lengthAdjust="spacingAndGlyphs">FVIII</text>
<text x="187.10" y="586.80" font-size="7" text-anchor="start" textLength="8.6" lengthAdjust="spacingAndGlyphs" style="stroke:none;fill:#444">-/-</text>
<text x="265.00" y="338.50" font-size="17" text-anchor="start" textLength="12.4" lengthAdjust="spacingAndGlyphs">D</text>
<line x1="328.50" y1="366.30" x2="328.50" y2="516.00" stroke="#000" stroke-width="1.8"/>
<line x1="327.60" y1="515.10" x2="508.50" y2="515.10" stroke="#000" stroke-width="1.8"/>
<line x1="324.00" y1="371.20" x2="328.50" y2="371.20" stroke="#000" stroke-width="1.5"/>
<text x="319.00" y="375.00" font-size="10.6" text-anchor="end">60</text>
<line x1="324.00" y1="393.10" x2="328.50" y2="393.10" stroke="#000" stroke-width="1.5"/>
<text x="319.00" y="396.90" font-size="10.6" text-anchor="end">50</text>
<line x1="324.00" y1="415.00" x2="328.50" y2="415.00" stroke="#000" stroke-width="1.5"/>
<text x="319.00" y="418.80" font-size="10.6" text-anchor="end">40</text>
<line x1="324.00" y1="436.90" x2="328.50" y2="436.90" stroke="#000" stroke-width="1.5"/>
<text x="319.00" y="440.70" font-size="10.6" text-anchor="end">30</text>
<line x1="324.00" y1="458.80" x2="328.50" y2="458.80" stroke="#000" stroke-width="1.5"/>
<text x="319.00" y="462.60" font-size="10.6" text-anchor="end">20</text>
<line x1="324.00" y1="480.70" x2="328.50" y2="480.70" stroke="#000" stroke-width="1.5"/>
<text x="319.00" y="484.50" font-size="10.6" text-anchor="end">10</text>
<line x1="324.00" y1="502.60" x2="328.50" y2="502.60" stroke="#000" stroke-width="1.5"/>
<text x="319.00" y="506.40" font-size="10.6" text-anchor="end">0</text>
<line x1="350.70" y1="515.10" x2="350.70" y2="519.90" stroke="#000" stroke-width="1.5"/>
<line x1="384.40" y1="515.10" x2="384.40" y2="519.90" stroke="#000" stroke-width="1.5"/>
<line x1="418.00" y1="515.10" x2="418.00" y2="519.90" stroke="#000" stroke-width="1.5"/>
<line x1="451.60" y1="515.10" x2="451.60" y2="519.90" stroke="#000" stroke-width="1.5"/>
<line x1="485.30" y1="515.10" x2="485.30" y2="519.90" stroke="#000" stroke-width="1.5"/>
<text transform="translate(297.40,497.87) rotate(-90)" x="0" y="0" font-size="13.6" textLength="20.11" lengthAdjust="spacingAndGlyphs">Hct</text>
<text transform="translate(297.40,473.01) rotate(-90)" x="0" y="0" font-size="13.6" textLength="18.49" lengthAdjust="spacingAndGlyphs">(%)</text>
<text transform="translate(297.40,451.25) rotate(-90)" x="0" y="0" font-size="13.6" textLength="11.47" lengthAdjust="spacingAndGlyphs">at</text>
<text transform="translate(297.40,435.76) rotate(-90)" x="0" y="0" font-size="13.6" textLength="14.58" lengthAdjust="spacingAndGlyphs">24</text>
<text transform="translate(297.40,417.45) rotate(-90)" x="0" y="0" font-size="13.6" textLength="34.05" lengthAdjust="spacingAndGlyphs">hours</text>
<line x1="350.70" y1="405.30" x2="350.70" y2="435.20" stroke="#111111" stroke-width="1.4"/>
<line x1="344.30" y1="405.30" x2="357.10" y2="405.30" stroke="#111111" stroke-width="1.5"/>
<line x1="344.30" y1="435.20" x2="357.10" y2="435.20" stroke="#111111" stroke-width="1.5"/>
<line x1="338.30" y1="420.20" x2="363.10" y2="420.20" stroke="#111111" stroke-width="1.7"/>
<line x1="384.40" y1="458.40" x2="384.40" y2="464.10" stroke="#111111" stroke-width="1.4"/>
<line x1="378.00" y1="458.40" x2="390.80" y2="458.40" stroke="#111111" stroke-width="1.5"/>
<line x1="378.00" y1="464.10" x2="390.80" y2="464.10" stroke="#111111" stroke-width="1.5"/>
<line x1="372.00" y1="461.50" x2="396.80" y2="461.50" stroke="#111111" stroke-width="1.7"/>
<line x1="418.00" y1="400.10" x2="418.00" y2="405.50" stroke="#111111" stroke-width="1.4"/>
<line x1="411.60" y1="400.10" x2="424.40" y2="400.10" stroke="#111111" stroke-width="1.5"/>
<line x1="411.60" y1="405.50" x2="424.40" y2="405.50" stroke="#111111" stroke-width="1.5"/>
<line x1="405.60" y1="402.80" x2="430.40" y2="402.80" stroke="#111111" stroke-width="1.7"/>
<line x1="451.60" y1="397.10" x2="451.60" y2="432.50" stroke="#111111" stroke-width="1.4"/>
<line x1="445.20" y1="397.10" x2="458.00" y2="397.10" stroke="#111111" stroke-width="1.5"/>
<line x1="445.20" y1="432.50" x2="458.00" y2="432.50" stroke="#111111" stroke-width="1.5"/>
<line x1="439.20" y1="415.00" x2="464.00" y2="415.00" stroke="#111111" stroke-width="1.7"/>
<line x1="485.30" y1="435.80" x2="485.30" y2="479.00" stroke="#111111" stroke-width="1.4"/>
<line x1="478.90" y1="435.80" x2="491.70" y2="435.80" stroke="#111111" stroke-width="1.5"/>
<line x1="478.90" y1="479.00" x2="491.70" y2="479.00" stroke="#111111" stroke-width="1.5"/>
<line x1="472.90" y1="457.30" x2="497.70" y2="457.30" stroke="#111111" stroke-width="1.7"/>
<circle cx="347.50" cy="401.50" r="2.3" fill="#1C3D80"/>
<circle cx="354.00" cy="404.00" r="2.3" fill="#1C3D80"/>
<circle cx="350.60" cy="415.00" r="2.3" fill="#1C3D80"/>
<circle cx="347.50" cy="421.70" r="2.3" fill="#1C3D80"/>
<circle cx="354.00" cy="421.70" r="2.3" fill="#1C3D80"/>
<circle cx="347.50" cy="439.20" r="2.3" fill="#1C3D80"/>
<circle cx="354.00" cy="439.20" r="2.3" fill="#1C3D80"/>
<circle cx="384.40" cy="458.70" r="2.3" fill="#AA0330"/>
<circle cx="378.10" cy="461.00" r="2.3" fill="#AA0330"/>
<circle cx="391.00" cy="461.00" r="2.3" fill="#AA0330"/>
<circle cx="384.40" cy="465.20" r="2.3" fill="#AA0330"/>
<circle cx="418.00" cy="399.00" r="2.3" fill="#AA0330"/>
<circle cx="411.70" cy="401.30" r="2.3" fill="#AA0330"/>
<circle cx="424.50" cy="404.00" r="2.3" fill="#AA0330"/>
<circle cx="418.00" cy="406.40" r="2.3" fill="#AA0330"/>
<circle cx="448.40" cy="392.80" r="2.3" fill="#AA0330"/>
<circle cx="454.90" cy="397.50" r="2.3" fill="#AA0330"/>
<circle cx="448.40" cy="406.20" r="2.3" fill="#AA0330"/>
<circle cx="454.90" cy="404.00" r="2.3" fill="#AA0330"/>
<circle cx="458.00" cy="421.50" r="2.3" fill="#AA0330"/>
<circle cx="445.50" cy="426.20" r="2.3" fill="#AA0330"/>
<circle cx="451.80" cy="426.20" r="2.3" fill="#AA0330"/>
<circle cx="451.70" cy="445.60" r="2.3" fill="#AA0330"/>
<circle cx="485.20" cy="416.70" r="2.3" fill="#AA0330"/>
<circle cx="482.10" cy="454.50" r="2.3" fill="#AA0330"/>
<circle cx="488.70" cy="456.50" r="2.3" fill="#AA0330"/>
<circle cx="485.40" cy="465.20" r="2.3" fill="#AA0330"/>
<circle cx="485.40" cy="472.50" r="2.3" fill="#AA0330"/>
<circle cx="485.40" cy="478.50" r="2.3" fill="#AA0330"/>
<line x1="347.00" y1="393.05" x2="382.50" y2="393.05" stroke="#262626" stroke-width="1.5"/>
<path d="M362.70,386.70L366.70,386.70M363.70,384.97L365.70,388.43M365.70,384.97L363.70,388.43" stroke="#2a2a2a" stroke-width="1.0" fill="none"/>
<line x1="385.40" y1="393.00" x2="420.60" y2="393.00" stroke="#262626" stroke-width="1.5"/>
<path d="M398.25,386.60L402.25,386.60M399.25,384.87L401.25,388.33M401.25,384.87L399.25,388.33" stroke="#2a2a2a" stroke-width="1.0" fill="none"/>
<path d="M403.35,386.60L407.35,386.60M404.35,384.87L406.35,388.33M406.35,384.87L404.35,388.33" stroke="#2a2a2a" stroke-width="1.0" fill="none"/>
<line x1="385.40" y1="374.95" x2="452.60" y2="374.95" stroke="#262626" stroke-width="1.5"/>
<path d="M416.70,368.70L420.70,368.70M417.70,366.97L419.70,370.43M419.70,366.97L417.70,370.43" stroke="#2a2a2a" stroke-width="1.0" fill="none"/>
<line x1="385.40" y1="356.90" x2="483.00" y2="356.90" stroke="#262626" stroke-width="1.5"/>
<text x="434.20" y="353.00" font-size="11.9" text-anchor="middle" textLength="11.2" lengthAdjust="spacingAndGlyphs">ns</text>
<text x="319.00" y="534.60" font-size="11.2" text-anchor="end" textLength="31.4" lengthAdjust="spacingAndGlyphs">rhFVIII</text>
<line x1="349.00" y1="531.20" x2="352.40" y2="531.20" stroke="#333" stroke-width="1.2"/>
<line x1="382.70" y1="531.20" x2="386.10" y2="531.20" stroke="#333" stroke-width="1.2"/>
<line x1="414.80" y1="531.20" x2="421.20" y2="531.20" stroke="#222" stroke-width="1.1"/>
<line x1="418.00" y1="527.90" x2="418.00" y2="534.50" stroke="#222" stroke-width="1.1"/>
<line x1="449.90" y1="531.20" x2="453.30" y2="531.20" stroke="#333" stroke-width="1.2"/>
<line x1="483.60" y1="531.20" x2="487.00" y2="531.20" stroke="#333" stroke-width="1.2"/>
<text x="319.00" y="552.40" font-size="11.2" text-anchor="end" textLength="19.1" lengthAdjust="spacingAndGlyphs">TXA</text>
<line x1="349.00" y1="549.00" x2="352.40" y2="549.00" stroke="#333" stroke-width="1.2"/>
<line x1="382.70" y1="549.00" x2="386.10" y2="549.00" stroke="#333" stroke-width="1.2"/>
<line x1="416.30" y1="549.00" x2="419.70" y2="549.00" stroke="#333" stroke-width="1.2"/>
<line x1="448.40" y1="549.00" x2="454.80" y2="549.00" stroke="#222" stroke-width="1.1"/>
<line x1="451.60" y1="545.70" x2="451.60" y2="552.30" stroke="#222" stroke-width="1.1"/>
<line x1="483.60" y1="549.00" x2="487.00" y2="549.00" stroke="#333" stroke-width="1.2"/>
<text x="319.00" y="570.20" font-size="11.2" text-anchor="end" textLength="43.4" lengthAdjust="spacingAndGlyphs">Anti-uPA</text>
<line x1="349.00" y1="566.40" x2="352.40" y2="566.40" stroke="#333" stroke-width="1.2"/>
<line x1="382.70" y1="566.40" x2="386.10" y2="566.40" stroke="#333" stroke-width="1.2"/>
<line x1="416.30" y1="566.40" x2="419.70" y2="566.40" stroke="#333" stroke-width="1.2"/>
<line x1="449.90" y1="566.40" x2="453.30" y2="566.40" stroke="#333" stroke-width="1.2"/>
<line x1="482.10" y1="566.40" x2="488.50" y2="566.40" stroke="#222" stroke-width="1.1"/>
<line x1="485.30" y1="563.10" x2="485.30" y2="569.70" stroke="#222" stroke-width="1.1"/>
<line x1="335.90" y1="577.30" x2="365.00" y2="577.30" stroke="#262626" stroke-width="1.4"/>
<text x="342.90" y="592.10" font-size="10.8" text-anchor="start" textLength="16.0" lengthAdjust="spacingAndGlyphs">WT</text>
<line x1="379.00" y1="577.40" x2="493.90" y2="577.40" stroke="#262626" stroke-width="1.4"/>
<text x="421.80" y="592.00" font-size="10.8" text-anchor="start" textLength="20.7" lengthAdjust="spacingAndGlyphs">FVIII</text>
<text x="442.60" y="587.00" font-size="7" text-anchor="start" textLength="8.4" lengthAdjust="spacingAndGlyphs" style="stroke:none;fill:#444">-/-</text>
<rect x="1" y="1" width="518" height="604" fill="none" stroke="#0a0a0a" stroke-width="2"/>
</svg>
</body></html>
